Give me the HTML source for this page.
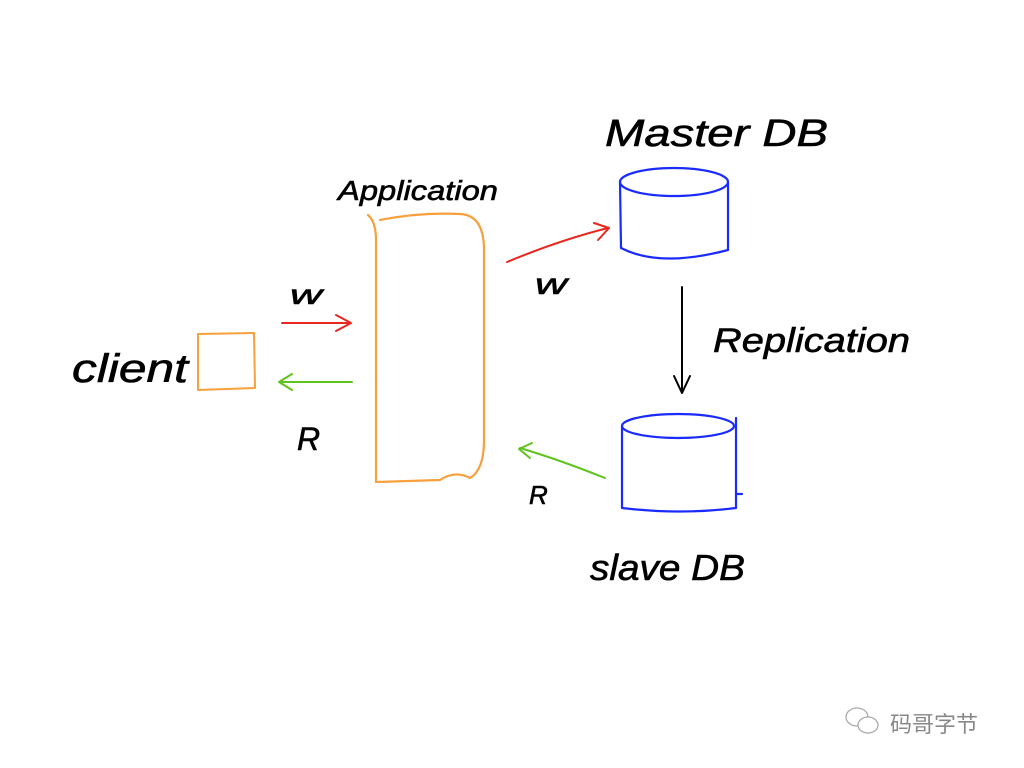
<!DOCTYPE html>
<html><head><meta charset="utf-8"><style>
html,body{margin:0;padding:0;background:#fff;width:1024px;height:768px;overflow:hidden}
svg{display:block}
text{font-family:"Liberation Sans","Noto Sans CJK SC",sans-serif;fill:#000}
</style></head><body>
<svg width="1024" height="768" viewBox="0 0 1024 768" xmlns="http://www.w3.org/2000/svg">
<g fill="none" stroke-linecap="round" stroke-linejoin="round">
<path d="M198,334 L254,333 L255,388 L198,390 Z" stroke="#f7a03c" stroke-width="2"/>
<path d="M368,215 Q376,222 376,240 L376,482 L440,480 Q455,470 470,478 Q484,470 484,440 L484,250 Q484,215 460,214 Q420,212 380,220" stroke="#f7a03c" stroke-width="2.2"/>
<path d="M282,323 L350,323 M336,315 L351,323 L336,331" stroke="#e8281e" stroke-width="2"/>
<path d="M507,262 Q560,240 608,228 M594,223 L609,228 L598,240" stroke="#e8281e" stroke-width="2"/>
<path d="M352,382 L280,382 M292,374 L279,382 L292,390" stroke="#5fc31e" stroke-width="2"/>
<path d="M605,478 Q560,460 520,448 M532,443 L519,449 L530,458" stroke="#5fc31e" stroke-width="2"/>
<g stroke="#1a2bff" stroke-width="2.2">
<ellipse cx="674" cy="182" rx="54" ry="14"/>
<path d="M620,182 L621,248 Q660,268 728,250 L728,182"/>
</g>
<path d="M682,287 L682,392 M674,376 L682,393 L690,376" stroke="#000" stroke-width="2"/>
<g stroke="#1a2bff" stroke-width="2.2">
<ellipse cx="678" cy="426" rx="56" ry="12"/>
<path d="M622,426 L622,508 Q680,515 736,508 L736,418 M736,494 L742,494"/>
</g>
</g>
<g font-style="italic" stroke="#000" stroke-width="0.6">
<text x="72" y="382" font-size="40" textLength="116" lengthAdjust="spacingAndGlyphs">client</text>
<text x="338" y="200" font-size="28" textLength="160" lengthAdjust="spacingAndGlyphs">Application</text>
<text x="290" y="304" font-size="28" textLength="32" lengthAdjust="spacingAndGlyphs">w</text>
<text x="297" y="450" font-size="32">R</text>
<text x="535" y="294" font-size="30" textLength="32" lengthAdjust="spacingAndGlyphs">w</text>
<text x="529" y="504" font-size="26">R</text>
<text x="605" y="146" font-size="38" textLength="223" lengthAdjust="spacingAndGlyphs">Master DB</text>
<text x="713" y="352" font-size="34" textLength="197" lengthAdjust="spacingAndGlyphs">Replication</text>
<text x="590" y="580" font-size="36" textLength="155" lengthAdjust="spacingAndGlyphs">slave DB</text>
</g>
<g fill="none" stroke="#aaa" stroke-width="1.3">
<ellipse cx="857" cy="717" rx="11" ry="9"/>
<ellipse cx="868" cy="725" rx="10" ry="8" fill="#fff"/>
</g>
<text x="890" y="732" font-size="22" style="fill:#888">码哥字节</text>
</svg>
</body></html>
